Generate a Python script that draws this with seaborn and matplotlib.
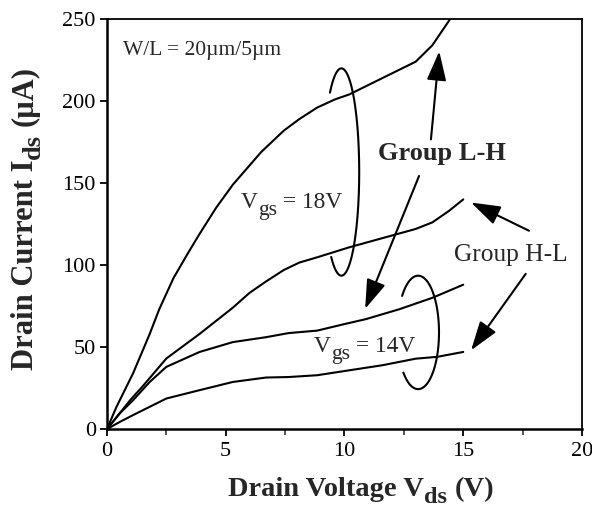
import matplotlib
matplotlib.use("Agg")
import matplotlib.pyplot as plt
from matplotlib.transforms import ScaledTranslation
import numpy as np
import pandas as pd
import seaborn as sns

# Measured output characteristics, W/L = 20um/5um
vds_18_lh = [0, 0.4, 1.1, 1.8, 2.2, 2.8, 3.4, 3.9, 4.6, 5.3, 6.5, 7.45, 8.1, 8.85, 9.6, 10.2, 11.6, 13.0, 13.7, 14.45]
ids_18_lh = [0, 13.5, 34, 58, 73, 92, 107, 119, 135, 149, 169, 182, 189, 196, 201, 204, 214, 224, 234, 250]

vds_18_hl = [0, 0.5, 1.0, 1.5, 2.5, 3.9, 5.3, 6.0, 6.7, 7.45, 8.1, 8.85, 10.2, 12.0, 13.0, 13.7, 14.4, 15.0]
ids_18_hl = [0, 9, 18, 26, 43, 58, 74, 83, 90, 97, 101.5, 104.7, 110.8, 118, 122, 126, 133, 140]

vds_14_lh = [0, 0.55, 1.1, 1.8, 2.5, 3.9, 5.3, 6.7, 7.65, 8.85, 10.0, 10.9, 12.3, 13.7, 15.0]
ids_14_lh = [0, 9.7, 17.6, 28.7, 37.9, 47, 53, 56, 58.5, 60, 64, 67, 73, 80, 88]

vds_14_hl = [0, 0.55, 1.1, 2.5, 3.9, 5.3, 6.7, 7.65, 8.85, 10.2, 11.6, 13.0, 13.9, 15.0]
ids_14_hl = [0, 4.4, 8.5, 18.6, 23.7, 28.7, 31.4, 31.7, 32.8, 35.8, 38.9, 42.9, 44, 47]

x_ticks = [0, 5, 10, 15, 20]
y_ticks = [0, 50, 100, 150, 200, 250]

frames = []
for name, vx, iy in [("18V L-H", vds_18_lh, ids_18_lh), ("18V H-L", vds_18_hl, ids_18_hl),
                     ("14V L-H", vds_14_lh, ids_14_lh), ("14V H-L", vds_14_hl, ids_14_hl)]:
    frames.append(pd.DataFrame({"Vds": vx, "Ids": iy, "curve": name}))
df = pd.concat(frames, ignore_index=True)

sns.set_style("ticks")
plt.rcParams["font.family"] = ["Liberation Serif", "DejaVu Serif"]

fig = plt.figure(figsize=(5.92, 5.07), dpi=100)
ax = fig.add_axes([0.1807, 0.1538, 0.8024, 0.8087])

sns.lineplot(data=df, x="Vds", y="Ids", hue="curve", units="curve", estimator=None,
             sort=False, palette=["black"] * 4, legend=False, linewidth=1.5, ax=ax)

ax.set_xlim(0, 20)
ax.set_ylim(0, 250)
ax.set_xticks(x_ticks)
ax.set_yticks(y_ticks)
ax.set_xticks([2.5, 7.5, 12.5, 17.5], minor=True)
ax.tick_params(axis="both", which="major", direction="out", length=5, width=1.3,
               labelsize=16, colors="black")
ax.tick_params(axis="x", which="minor", direction="out", length=4, width=1.1)
ax.tick_params(axis="x", which="major", pad=4)
ax.tick_params(axis="y", which="major", pad=3)
for side, lw in [("left", 1.8), ("bottom", 1.8), ("top", 1.3), ("right", 1.3)]:
    ax.spines[side].set_visible(True)
    ax.spines[side].set_linewidth(lw)
    ax.spines[side].set_color("black")
ax.set_xlabel("")
ax.set_ylabel("")

renderer = fig.canvas.get_renderer()


def draw_parts(x, y, parts, transform, rotation=0):
    """Write a label piece by piece so subscripts keep a near full size."""
    offset = 0.0
    for text, size, weight, drop, gap in parts:
        offset += gap * size * fig.dpi / 72
        dx, dy = (offset, -drop) if rotation == 0 else (drop, offset)
        tr = transform + ScaledTranslation(dx / fig.dpi, dy / fig.dpi, fig.dpi_scale_trans)
        t = fig.text(x, y, text, transform=tr, fontsize=size, fontweight=weight,
                     rotation=rotation, rotation_mode="anchor", ha="left", va="baseline")
        bb = t.get_window_extent(renderer=renderer)
        offset += bb.height if rotation else bb.width


# axis titles
draw_parts(228 / 592, 1 - 496 / 507,
           [("Drain Voltage V", 20.5, "bold", 0, 0), ("ds", 17.5, "bold", 7, 0.02),
            ("(V)", 20.5, "bold", 0, 0.25)], fig.transFigure)
draw_parts(33 / 592, 1 - 370 / 507,
           [("Drain Current I", 22, "bold", 0, 0), ("ds", 19, "bold", 7, 0.02),
            ("(\u00b5A)", 22, "bold", 0, 0.25)], fig.transFigure, rotation=90)

# in-plot labels
draw_parts(0.67, 228.3, [("W/L = 20\u00b5m/5\u00b5m", 15.5, "normal", 0, 0)], ax.transData)
draw_parts(5.65, 134.9, [("V", 16.8, "normal", 0, 0), ("gs", 15.5, "normal", 7, 0.02),
                         ("= 18V", 16.8, "normal", 0, 0.25)], ax.transData)
draw_parts(8.70, 47.0, [("V", 16.8, "normal", 0, 0), ("gs", 15.5, "normal", 7, 0.02),
                        ("= 14V", 16.8, "normal", 0, 0.25)], ax.transData)
draw_parts(11.42, 163.8, [("Group L-H", 19, "bold", 0, 0)], ax.transData)
draw_parts(14.63, 102.7, [("Group H-L", 18.3, "normal", 0, 0)], ax.transData)

arrow = dict(arrowstyle="-|>,head_length=0.9,head_width=0.3", color="black", lw=1.5,
             mutation_scale=20, shrinkA=0, shrinkB=0)
ax.annotate("", xy=(13.99, 230.3), xytext=(13.64, 176.6), arrowprops=arrow)
ax.annotate("", xy=(10.87, 73.3), xytext=(13.14, 154.3), arrowprops=arrow)
ax.annotate("", xy=(15.33, 138.1), xytext=(17.77, 120.9), arrowprops=arrow)
ax.annotate("", xy=(15.33, 48.0), xytext=(17.63, 94.6), arrowprops=arrow)

# open loops grouping the curves of each gate voltage
for cx, cy, a, b, t0, t1 in [(9.87, 156.7, 0.75, 63.2, -125, 130),
                             (13.1, 58.9, 0.88, 34.6, -135, 140)]:
    t = np.deg2rad(np.linspace(t0, t1, 200))
    ax.plot(cx + a * np.cos(t), cy + b * np.sin(t), color="black", lw=1.5)

fig.savefig("out.png", dpi=100)
